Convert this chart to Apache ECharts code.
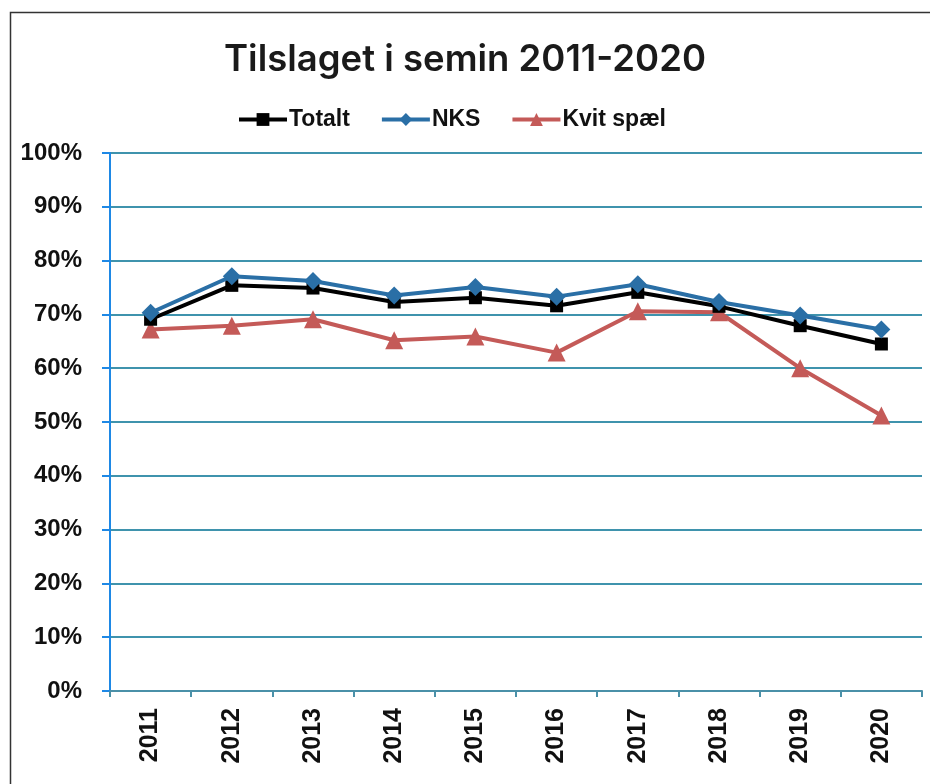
<!DOCTYPE html>
<html>
<head>
<meta charset="utf-8">
<script src="https://cdn.jsdelivr.net/npm/echarts@6/dist/echarts.min.js"></script>
<style>
html,body{margin:0;padding:0;background:#fff;}
#c{width:930px;height:784px;}
</style>
</head>
<body>
<div id="c"></div>
<script>
const categories = ['2011','2012','2013','2014','2015','2016','2017','2018','2019','2020'];
const totalt = [69.1, 75.4, 74.9, 72.3, 73.1, 71.6, 74.1, 71.5, 67.9, 64.5];
const nks = [70.3, 77.1, 76.2, 73.5, 75.1, 73.3, 75.6, 72.3, 69.8, 67.2];
const kvitSpael = [67.2, 67.9, 69.1, 65.2, 65.9, 62.9, 70.6, 70.4, 60.0, 51.2];
const yTicks = [0, 10, 20, 30, 40, 50, 60, 70, 80, 90, 100];

const chart = echarts.init(document.getElementById('c'));
const bold = {fontFamily: 'Liberation Sans, Arial, sans-serif', fontWeight: 'bold', color: '#111'};
chart.setOption({
  animation: false,
  backgroundColor: '#fff',
  graphic: [{
    type: 'rect', shape: {x: 10.5, y: 12.5, width: 930, height: 790},
    style: {fill: 'none', stroke: '#333', lineWidth: 1.5}, z: -1
  }],
  title: {
    text: 'Tilslaget i semin 2011-2020', left: 'center', top: 37,
    textStyle: {fontFamily: 'Inter, Open Sans, sans-serif', fontWeight: 600, fontSize: 36.5, color: '#1a1a1a'}
  },
  legend: {
    top: 103, left: 232, itemGap: 30, itemWidth: 48, itemHeight: 16,
    lineStyle: {width: 4},
    textStyle: Object.assign({}, bold, {fontSize: 23, padding: [0, 0, 0, -3]}),
    data: ['Totalt', 'NKS', 'Kvit spæl']
  },
  grid: {left: 110, right: 8, top: 153, bottom: 93, containLabel: false},
  xAxis: {
    type: 'category', data: categories, boundaryGap: true,
    axisLine: {lineStyle: {color: '#4a90a8', width: 2}},
    axisTick: {show: true, length: 6, lineStyle: {color: '#4a90a8', width: 2}},
    axisLabel: Object.assign({}, bold, {fontSize: 25, rotate: 90, margin: 17}),
    splitLine: {show: false}
  },
  yAxis: {
    type: 'value', min: 0, max: 100, interval: 10,
    axisLine: {show: true, lineStyle: {color: '#1e88e5', width: 2}},
    axisTick: {show: true, length: 8, lineStyle: {color: '#1e88e5', width: 2}},
    axisLabel: Object.assign({}, bold, {fontSize: 24, formatter: function(v){return yTicks.indexOf(v) >= 0 ? v + '%' : '';}, margin: 28}),
    splitLine: {show: true, lineStyle: {color: '#3f93ad', width: 2}}
  },
  series: [
    {
      name: 'Totalt', type: 'line', data: totalt, symbol: 'rect', symbolSize: 13,
      lineStyle: {color: '#000', width: 4}, itemStyle: {color: '#000'}, z: 3
    },
    {
      name: 'NKS', type: 'line', data: nks, symbol: 'diamond', symbolSize: 18,
      lineStyle: {color: '#2a6fa6', width: 4}, itemStyle: {color: '#2a6fa6'}, z: 4
    },
    {
      name: 'Kvit spæl', type: 'line', data: kvitSpael, symbol: 'triangle', symbolSize: 18,
      lineStyle: {color: '#c45a58', width: 4}, itemStyle: {color: '#c45a58'}, z: 2
    }
  ]
});
</script>
</body>
</html>
